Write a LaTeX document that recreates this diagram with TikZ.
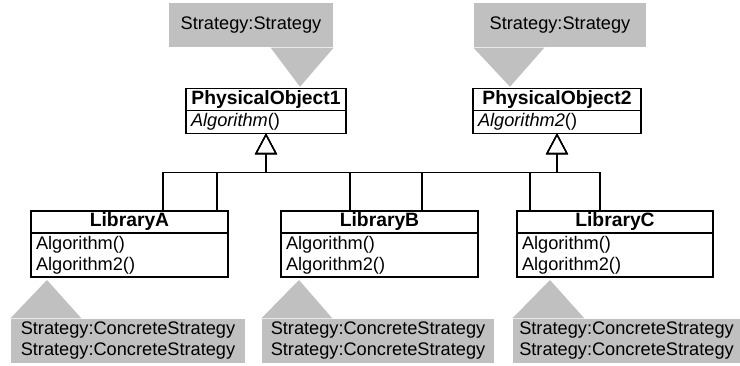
\documentclass[tikz,border=0pt]{standalone}
\usepackage{fontspec}
\setmainfont{Liberation Sans}
\usepackage{tikz}
\usetikzlibrary{arrows.meta,calc,positioning}
\definecolor{notegray}{RGB}{192,192,192}
\newcommand{\umlsize}{\fontsize{18.2}{21}\selectfont}
\newcommand{\umlhead}{\fontsize{19.3}{21}\selectfont\bfseries}
\tikzset{
	uml diagram/.style={
		x=1pt, y=-1pt,
		line width=1.3pt,
		font=\umlsize,
		gen/.style={-{Triangle[open,length=21pt,width=22pt,line width=1.3pt]}},
		},
	cls name/.style={draw, font=\umlhead, minimum width=#1,
		minimum height=21.5pt, inner sep=0pt, outer sep=0pt},
	cls ops/.style={draw, align=left, text width=#1, inner xsep=5pt,
		inner ysep=1pt, outer sep=0pt},
	note/.style={fill=notegray, minimum height=44pt, inner sep=0pt, align=left},
	note tip/.style={fill=notegray}
}

\begin{document}
\begin{tikzpicture}[uml diagram]
	\useasboundingbox (0,0) rectangle (740,365);
	% interfaces
	\node[cls name=160pt] (po1) at (266,99.5) {PhysicalObject1};
	\node[cls ops=150pt, minimum height=23pt, below=0pt of po1] (po1b) {\textit{Algorithm}()};
	\node[cls name=168pt] (po2) at (557,99.5) {PhysicalObject2};
	\node[cls ops=158pt, minimum height=23pt, below=0pt of po2] (po2b) {\textit{Algorithm2}()};
	% concrete classes
	\node[cls name=197pt, minimum height=22pt] (libA) at (129.5,222) {LibraryA};
	\node[cls ops=187pt, minimum height=44pt, below=0pt of libA] (libAb) {Algorithm()\\Algorithm2()};
	\node[cls name=197pt, minimum height=22pt] (libB) at (379.5,222) {LibraryB};
	\node[cls ops=187pt, minimum height=44pt, below=0pt of libB] (libBb) {Algorithm()\\Algorithm2()};
	\node[cls name=196pt, minimum height=22pt] (libC) at (615,222) {LibraryC};
	\node[cls ops=186pt, minimum height=44pt, below=0pt of libC] (libCb) {Algorithm()\\Algorithm2()};
	% notes
	\node[note, minimum width=164pt] (n1) at (251,25) {Strategy:Strategy};
	\node[note, minimum width=172pt] (n2) at (560,25) {Strategy:Strategy};
	\node[note, minimum width=234pt] (nA) at (128,341) {Strategy:ConcreteStrategy\\Strategy:ConcreteStrategy};
	\node[note, minimum width=232pt] (nB) at (378,341) {Strategy:ConcreteStrategy\\Strategy:ConcreteStrategy};
	\node[note, minimum width=227pt] (nC) at (626.5,341) {Strategy:ConcreteStrategy\\Strategy:ConcreteStrategy};
	\coordinate (t1) at ($(po1.north west)+(114,-2)$);
	\coordinate (t2) at ($(po2.north west)+(37,-2)$);
	\coordinate (tA) at ($(libAb.south west)+(16,3)$);
	\coordinate (tB) at ($(libBb.south west)+(18,3)$);
	\coordinate (tC) at ($(libCb.south west)+(33,3)$);
	\fill[note tip] ($(n1.south east)+(-63,0)$) -- (n1.south east) -- (t1) -- cycle;
	\fill[note tip] (n2.south west) -- ($(n2.south west)+(71,0)$) -- (t2) -- cycle;
	\fill[note tip] (nA.north west) -- ($(nA.north west)+(71,0)$) -- (tA) -- cycle;
	\fill[note tip] (nB.north west) -- ($(nB.north west)+(71,0)$) -- (tB) -- cycle;
	\fill[note tip] (nC.north west) -- ($(nC.north west)+(72,0)$) -- (tC) -- cycle;
	% generalizations
	\coordinate (j1) at ($(po1b.south)+(0,39)$);
	\coordinate (j2) at ($(po2b.south)+(0,39)$);
	\coordinate (libA-p1) at ($(libA.north west)+(132,0)$);
	\coordinate (libA-p2) at ($(libA.north west)+(186,0)$);
	\coordinate (libB-p1) at ($(libB.north west)+(69,0)$);
	\coordinate (libB-p2) at ($(libB.north west)+(141,0)$);
	\coordinate (libC-p1) at ($(libC.north west)+(13,0)$);
	\coordinate (libC-p2) at ($(libC.north west)+(83,0)$);
	\draw[gen] (libA-p1) |- (j1) -- (po1b);
	\draw[gen] (libB-p1) |- (j1) -- (po1b);
	\draw[gen] (libC-p1) |- (j1) -- (po1b);
	\draw[gen] (libA-p2) |- (j2) -- (po2b);
	\draw[gen] (libB-p2) |- (j2) -- (po2b);
	\draw[gen] (libC-p2) |- (j2) -- (po2b);
\end{tikzpicture}
\end{document}
